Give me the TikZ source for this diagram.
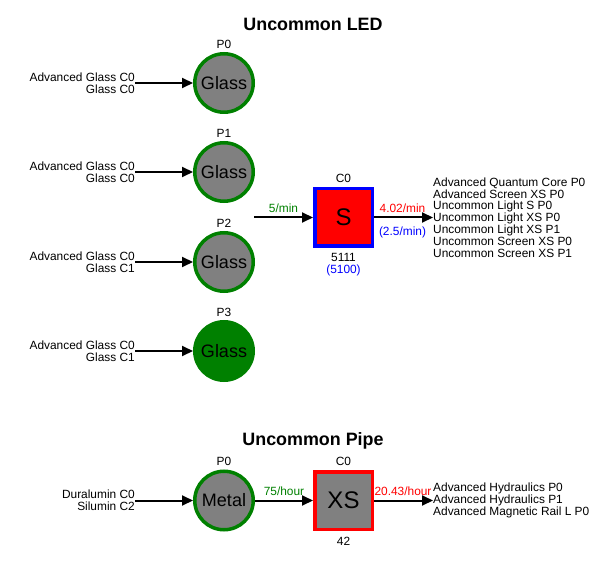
\documentclass[tikz,border=0pt]{standalone}
\usepackage{fontspec}
\setmainfont{Liberation Sans}
\usetikzlibrary{arrows.meta}
\definecolor{dgreen}{RGB}{0,128,0}
\definecolor{mgray}{RGB}{128,128,128}
\tikzset{
  sm/.style={font=\fontsize{11.9}{11.8}\selectfont, inner sep=0pt},
  ttl/.style={font=\fontsize{17.9}{20}\selectfont\bfseries, inner sep=0pt},
  proc/.style={circle, draw=dgreen, line width=3.5pt, fill=mgray, minimum size=58.5pt, inner sep=0pt, font=\fontsize{18}{20}\selectfont},
  fac/.style={rectangle, line width=3.5pt, minimum size=57.5pt, inner sep=0pt, font=\fontsize{24}{26}\selectfont},
  flow/.style={-{Triangle[length=11pt,width=10pt]}, line width=2pt, black},
}
\begin{document}
\begin{tikzpicture}[x=1pt,y=-1pt]
\useasboundingbox (0,0) rectangle (613,561);
\node[ttl] (t1) at (313,24) {Uncommon LED};
\node[ttl] (t2) at (313,441) {Uncommon Pipe};
% LED processes
\foreach \i/\y/\a/\b/\f in {0/83/Advanced Glass C0/Glass C0/mgray,1/172/Advanced Glass C0/Glass C0/mgray,2/262/Advanced Glass C0/Glass C1/mgray,3/351/Advanced Glass C0/Glass C1/dgreen}{
  \node[proc, fill=\f] (p\i) at (224,\y) {Glass};
  \node[sm] (pl\i) at (224,\y-39) {P\i};
  \node[sm, anchor=east, align=right] (in\i) at (135,\y) {\a\\\b};
  \draw[flow] (in\i.east) -- (p\i);
}
% LED factory
\node[fac, draw=blue, fill=red] (s) at (343.5,217.5) {S};
\node[sm] (sc) at (343.5,178) {C0};
\node[sm, align=center] (sn) at (343.5,264.5) {5111\\\textcolor{blue}{(5100)}};
\coordinate (sin) at (254,217.5);
\draw[flow] (sin) -- (s.west) node[midway, above=4pt, sm, text=dgreen] (r1) {5/min};
\node[sm, anchor=west, align=left] (out1) at (433,217.5) {Advanced Quantum Core P0\\Advanced Screen XS P0\\Uncommon Light S P0\\Uncommon Light XS P0\\Uncommon Light XS P1\\Uncommon Screen XS P0\\Uncommon Screen XS P1};
\draw[flow] (s.east) -- (out1.west);
\node[sm, text=red] (r2) at (402.5,208) {4.02/min};
\node[sm, text=blue] (r3) at (402.5,232) {(2.5/min)};
% Pipe
\node[proc] (m) at (224,500.5) {Metal};
\node[sm] (ml) at (224,461) {P0};
\node[sm, anchor=east, align=right] (min) at (135,500.5) {Duralumin C0\\Silumin C2};
\draw[flow] (min.east) -- (m);
\node[fac, draw=red, fill=mgray] (xs) at (343.5,500.5) {XS};
\node[sm] (xc) at (343.5,461) {C0};
\node[sm] (xn) at (343.5,541) {42};
\draw[flow] (m) -- (xs.west) node[midway, above=4pt, sm, text=dgreen] (r4) {75/hour};
\node[sm, anchor=west, align=left] (out2) at (433,500.5) {Advanced Hydraulics P0\\Advanced Hydraulics P1\\Advanced Magnetic Rail L P0};
\draw[flow] (xs.east) -- (out2.west);
\node[sm, text=red] (r5) at (403,491) {20.43/hour};
\end{tikzpicture}
\end{document}
